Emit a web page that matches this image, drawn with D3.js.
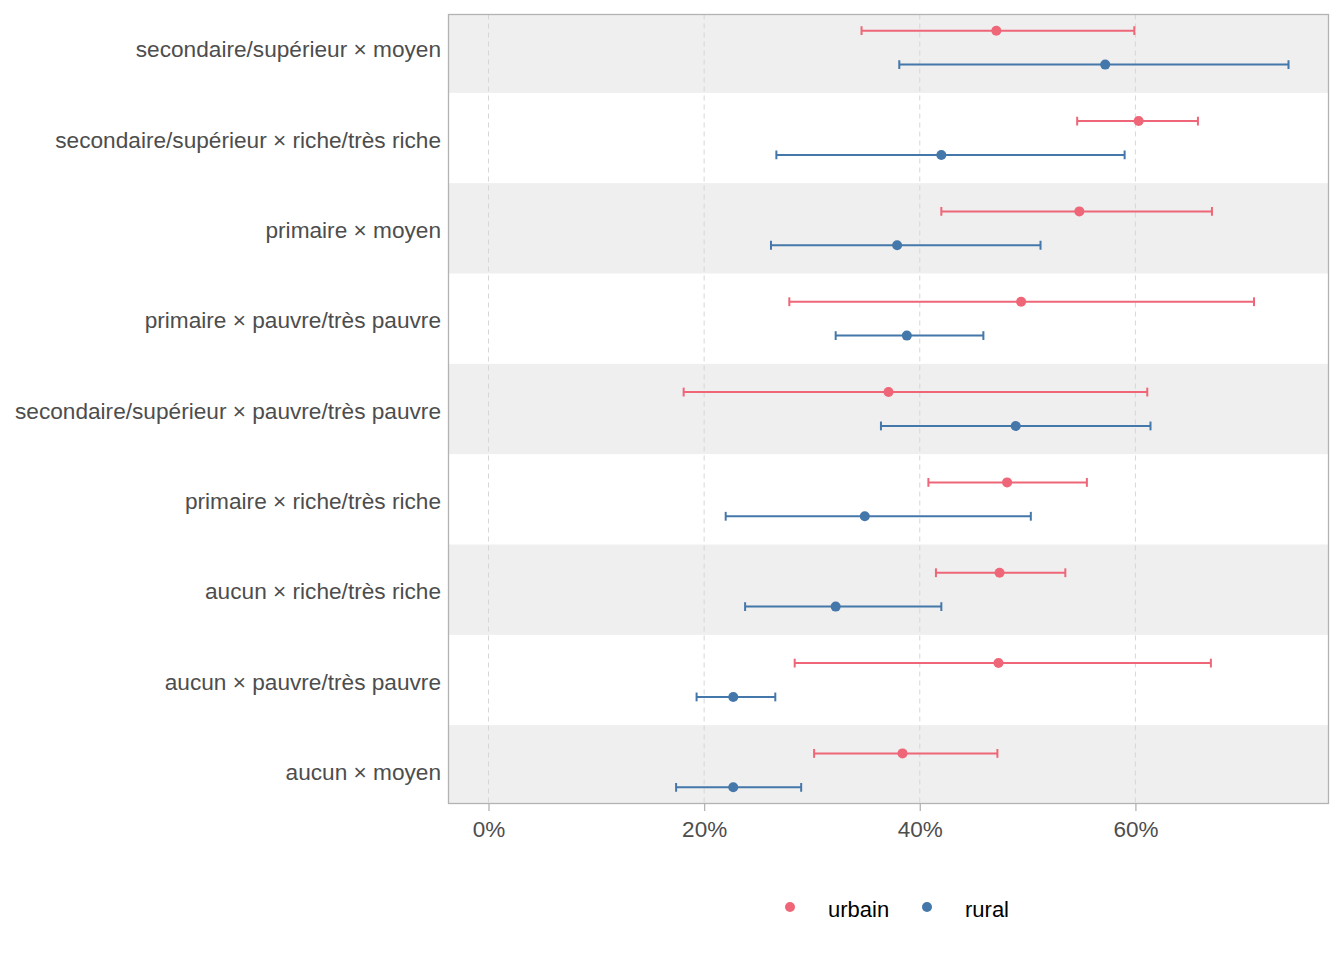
<!DOCTYPE html>
<html>
<head>
<meta charset="utf-8">
<script src="https://cdn.jsdelivr.net/npm/d3@7"></script>
<style>
  html, body { margin: 0; padding: 0; background: #fff; }
  svg { display: block; font-family: "Liberation Sans", Arial, sans-serif; }
</style>
</head>
<body>
<svg width="1344" height="960"></svg>
<script>
// categories, top to bottom
const categories = [
  'secondaire/supérieur × moyen',
  'secondaire/supérieur × riche/très riche',
  'primaire × moyen',
  'primaire × pauvre/très pauvre',
  'secondaire/supérieur × pauvre/très pauvre',
  'primaire × riche/très riche',
  'aucun × riche/très riche',
  'aucun × pauvre/très pauvre',
  'aucun × moyen',
];

// estimates and 95% intervals, in percent
const urbainEst  = [47.1, 60.3, 54.8, 49.4, 37.1, 48.1, 47.4, 47.3, 38.4];
const urbainLow  = [34.6, 54.6, 42.0, 27.9, 18.1, 40.8, 41.5, 28.4, 30.2];
const urbainHigh = [59.9, 65.8, 67.1, 71.0, 61.1, 55.5, 53.5, 67.0, 47.2];

const ruralEst  = [57.2, 42.0, 37.9, 38.8, 48.9, 34.9, 32.2, 22.7, 22.7];
const ruralLow  = [38.1, 26.7, 26.2, 32.2, 36.4, 22.0, 23.8, 19.3, 17.4];
const ruralHigh = [74.2, 59.0, 51.2, 45.9, 61.4, 50.3, 42.0, 26.6, 29.0];

const groups = ['urbain', 'rural'];
const xTicks = [0, 20, 40, 60];

const colors = { urbain: '#EE6677', rural: '#4477AA' };

const series = [
  { key: 'urbain', est: urbainEst, low: urbainLow, high: urbainHigh },
  { key: 'rural', est: ruralEst, low: ruralLow, high: ruralHigh },
];

const rows = [];
series.forEach((s, gi) => {
  categories.forEach((c, i) => {
    rows.push({ cat: c, idx: i, group: s.key, gi, est: s.est[i], low: s.low[i], high: s.high[i] });
  });
});

const svg = d3.select('svg');
const panel = { left: 448.5, right: 1328.5, top: 14.5, bottom: 803.5 };

// x domain: data (incl. 0) expanded by 5% each side like ggplot
const xMax = d3.max(rows, d => d.high);
const xMin = 0;
const pad = (xMax - xMin) * 0.05;
const x = d3.scaleLinear()
  .domain([xMin - pad, xMax + pad])
  .range([panel.left, panel.right]);

const y = d3.scalePoint()
  .domain(categories)
  .range([panel.top, panel.bottom])
  .padding(0.367);

const step = y.step();
const dodge = step * 0.1875;
const yPos = d => y(d.cat) + (d.gi === 0 ? -dodge : dodge);

svg.append('clipPath').attr('id', 'panel-clip')
  .append('rect')
    .attr('x', panel.left).attr('y', panel.top)
    .attr('width', panel.right - panel.left)
    .attr('height', panel.bottom - panel.top);

const plot = svg.append('g').attr('clip-path', 'url(#panel-clip)');

// alternating row bands
plot.selectAll('rect.band')
  .data(categories.filter((c, i) => i % 2 === 0))
  .enter().append('rect')
    .attr('class', 'band')
    .attr('x', panel.left)
    .attr('width', panel.right - panel.left)
    .attr('y', c => y(c) - step / 2)
    .attr('height', step)
    .attr('fill', '#efefef');

// vertical dashed grid
plot.selectAll('line.grid')
  .data(xTicks)
  .enter().append('line')
    .attr('class', 'grid')
    .attr('x1', d => x(d)).attr('x2', d => x(d))
    .attr('y1', panel.top).attr('y2', panel.bottom)
    .attr('stroke', '#d6d6d6')
    .attr('stroke-width', 1)
    .attr('stroke-dasharray', '5,4');

// error bars
const capH = 4.4;
const bars = plot.selectAll('g.bar')
  .data(rows)
  .enter().append('g')
    .attr('class', 'bar')
    .attr('stroke', d => colors[d.group])
    .attr('stroke-width', 2);

bars.append('line')
  .attr('x1', d => x(d.low)).attr('x2', d => x(d.high))
  .attr('y1', yPos).attr('y2', yPos);
bars.append('line')
  .attr('x1', d => x(d.low)).attr('x2', d => x(d.low))
  .attr('y1', d => yPos(d) - capH).attr('y2', d => yPos(d) + capH);
bars.append('line')
  .attr('x1', d => x(d.high)).attr('x2', d => x(d.high))
  .attr('y1', d => yPos(d) - capH).attr('y2', d => yPos(d) + capH);

plot.selectAll('circle.pt')
  .data(rows)
  .enter().append('circle')
    .attr('class', 'pt')
    .attr('cx', d => x(d.est))
    .attr('cy', yPos)
    .attr('r', 5)
    .attr('fill', d => colors[d.group]);

// panel border
svg.append('rect')
  .attr('x', panel.left).attr('y', panel.top)
  .attr('width', panel.right - panel.left)
  .attr('height', panel.bottom - panel.top)
  .attr('fill', 'none')
  .attr('stroke', '#b3b3b3')
  .attr('stroke-width', 1.3);

// x axis
const xAxis = svg.append('g')
  .attr('transform', `translate(0,${panel.bottom})`)
  .call(d3.axisBottom(x)
    .tickValues(xTicks)
    .tickFormat(d => d + '%')
    .tickSizeInner(7.5)
    .tickSizeOuter(0)
    .tickPadding(10));
xAxis.select('.domain').remove();
xAxis.selectAll('.tick line').attr('stroke', '#b3b3b3').attr('stroke-width', 1.3);
xAxis.selectAll('.tick text')
  .attr('fill', '#4d4d4d')
  .attr('font-size', '22.5px')
  .attr('font-family', '"Liberation Sans", Arial, sans-serif');

// y labels
svg.append('g').selectAll('text.ylab')
  .data(categories)
  .enter().append('text')
    .attr('class', 'ylab')
    .attr('x', 441)
    .attr('y', c => y(c) + 9.8)
    .attr('text-anchor', 'end')
    .attr('fill', '#4d4d4d')
    .attr('font-size', '22.65px')
    .text(c => c);

// legend
const legendX = [790, 927];
const legend = svg.append('g').selectAll('g.leg')
  .data(groups)
  .enter().append('g')
    .attr('class', 'leg')
    .attr('transform', (g, i) => `translate(${legendX[i]},907)`);
legend.append('circle')
  .attr('r', 5)
  .attr('fill', g => colors[g]);
legend.append('text')
  .attr('x', 38)
  .attr('y', 9.5)
  .attr('font-size', '22px')
  .attr('fill', '#000')
  .text(g => g);
</script>
</body>
</html>
